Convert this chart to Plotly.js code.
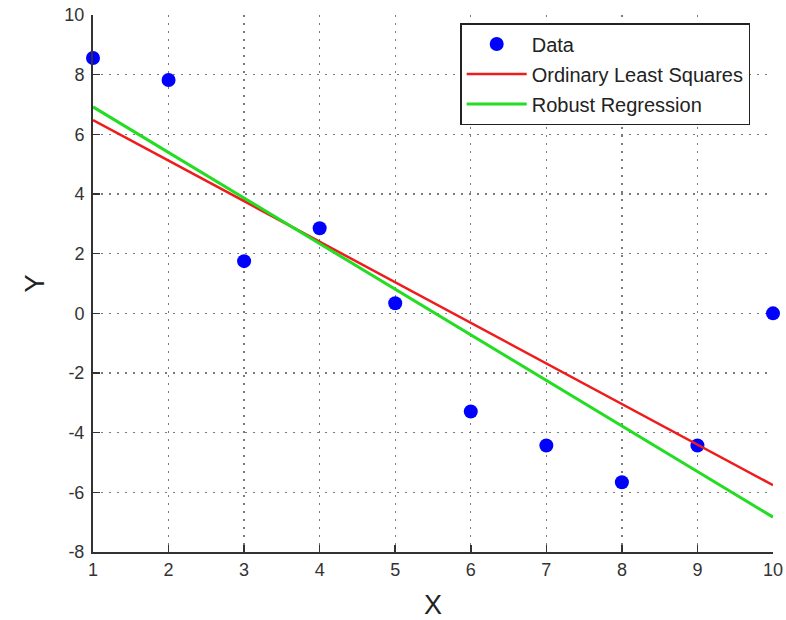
<!DOCTYPE html>
<html>
<head>
<meta charset="utf-8">
<script src="https://cdn.plot.ly/plotly-3.0.1.min.js"></script>
<style>html,body{margin:0;padding:0;background:#fff;}#chart{width:786px;height:620px;}</style>
</head>
<body>
<div id="chart"></div>
<script>
const dataX = [1, 2, 3, 4, 5, 6, 7, 8, 9, 10];
const dataY = [8.56, 7.82, 1.75, 2.85, 0.34, -3.29, -4.43, -5.66, -4.43, 0.0];
const lineX = [1, 10];
const olsY = [6.48, -5.76];
const robustY = [6.92, -6.83];
const xTicks = [1, 2, 3, 4, 5, 6, 7, 8, 9, 10];
const yTicks = [-8, -6, -4, -2, 0, 2, 4, 6, 8, 10];

const traces = [
  {x: dataX, y: dataY, mode: 'markers', name: 'Data', type: 'scatter', legendgroup: 'a',
   marker: {color: '#0000ff', size: 14}, cliponaxis: false},
  {x: lineX, y: olsY, mode: 'lines', name: 'Ordinary Least Squares', type: 'scatter', legendgroup: 'b',
   line: {color: '#ee1c1c', width: 2.5}},
  {x: lineX, y: robustY, mode: 'lines', name: 'Robust Regression', type: 'scatter', legendgroup: 'c',
   line: {color: '#22dd22', width: 3}}
];

const fontFam = 'Liberation Sans, Arial, sans-serif';
const axisCommon = {
  showgrid: true, gridcolor: '#7a7a7a', griddash: '2px,6px', gridwidth: 1.3,
  zeroline: false, showline: true, linecolor: '#333', linewidth: 2,
  ticks: 'inside', ticklen: 7, tickcolor: '#333', tickwidth: 1.5,
  tickfont: {family: fontFam, size: 18, color: '#333'}
};

const layout = {
  width: 786, height: 620,
  margin: {l: 93, r: 13, t: 15, b: 68},
  paper_bgcolor: '#fff', plot_bgcolor: '#fff',
  showlegend: true,
  xaxis: Object.assign({}, axisCommon, {
    range: [1, 10], tickvals: xTicks, ticktext: xTicks.map(String),
    title: {text: 'X', font: {family: fontFam, size: 27, color: '#222'}, standoff: 18}
  }),
  yaxis: Object.assign({}, axisCommon, {
    range: [-8, 10], tickvals: yTicks, ticktext: yTicks.map(String),
    ticklabelstandoff: 3,
    title: {text: 'Y', font: {family: fontFam, size: 27, color: '#222'}, standoff: 12}
  }),
  legend: {
    x: 0.54, y: 0.985, xanchor: 'left', yanchor: 'top',
    bgcolor: '#fff', bordercolor: '#222', borderwidth: 1.5,
    font: {family: fontFam, size: 20, color: '#222'},
    tracegroupgap: 1, itemwidth: 60
  }
};

Plotly.newPlot('chart', traces, layout, {displayModeBar: false, staticPlot: true});
</script>
</body>
</html>
